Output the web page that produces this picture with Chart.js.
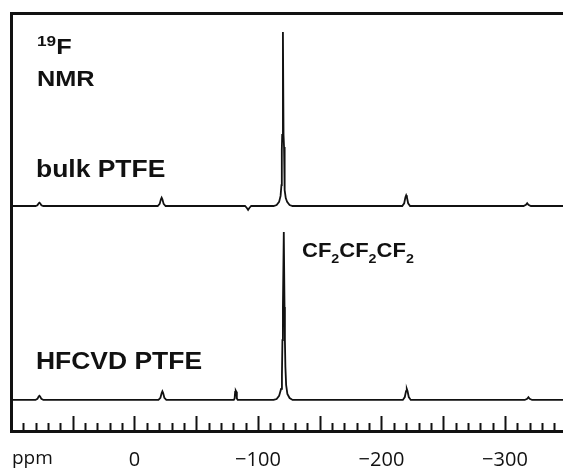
<!DOCTYPE html>
<html>
<head>
<meta charset="utf-8">
<script src="https://cdn.jsdelivr.net/npm/chart.js@4/dist/chart.umd.min.js"></script>
<style>
html, body { margin: 0; padding: 0; background: #fff; }
#wrap { width: 563px; height: 468px; position: relative; }
</style>
</head>
<body>
<div id="wrap"><canvas id="nmrChart"></canvas></div>
<script>
// chemical shift (ppm) and relative intensity
const bulkPpm = [100, 80.2, 78.6, 77.6, 77, 76.4, 75.4, 73.8,
    -18.8, -20.4, -21.4, -22, -22.6, -23.6, -25.2,
    -89.5, -91, -92, -93, -94.5,
    -112.6, -115.1, -117.1, -118.3, -119.0, -119.3, -119.6, -120.2, -120.7, -121.1, -121.4, -121.8, -122.5, -123.6, -125.6, -128.0,
    -216.8, -218.4, -219.4, -220, -220.6, -221.6, -223.2,
    -315, -317, -318, -319, -321, -347];
const bulkInt = [0, 0, 0.004, 0.014, 0.017, 0.014, 0.004, 0,
    0, 0.011, 0.035, 0.043, 0.035, 0.011, 0,
    0, -0.01, -0.02, -0.01, 0,
    0, 0.005, 0.021, 0.052, 0.108, 0.289, 0.366, 0.897, 0.366, 0.304, 0.186, 0.082, 0.041, 0.021, 0.005, 0,
    0, 0.014, 0.045, 0.055, 0.045, 0.014, 0,
    0, 0.006, 0.014, 0.006, 0, 0];

const hfcvdPpm = [100, 80.2, 78.6, 77.6, 77, 76.4, 75.4, 73.8,
    -19.4, -21.0, -22.0, -22.6, -23.2, -24.2, -25.8,
    -80.4, -81.1, -81.5, -82, -82.5, -82.9, -83.6,
    -112.6, -115.1, -117.1, -118.7, -119.4, -119.8, -120.2, -120.9, -121.5, -121.8, -122.2, -122.8, -123.8, -125.6, -128.0,
    -217.3, -218.9, -219.9, -220.5, -221.1, -222.1, -223.7,
    -316, -318, -319, -320, -322, -347];
const hfcvdInt = [0, 0, 0.006, 0.018, 0.022, 0.018, 0.006, 0,
    0, 0.011, 0.036, 0.045, 0.036, 0.011, 0,
    0, 0.008, 0.042, 0.048, 0.042, 0.008, 0,
    0, 0.005, 0.021, 0.057, 0.129, 0.309, 0.479, 0.866, 0.479, 0.309, 0.170, 0.077, 0.031, 0.010, 0,
    0, 0.015, 0.046, 0.057, 0.046, 0.015, 0,
    0, 0.006, 0.014, 0.006, 0, 0];

const bulkOffset = 1;          // upper trace is stacked one unit above the lower
const tickValues = [0, -100, -200, -300];

function toPoints(xs, ys, offset) {
    return xs.map((x, i) => ({ x: x, y: ys[i] + offset }));
}

function drawRuns(ctx, runs, x, y, sx) {
    runs.forEach(r => {
        ctx.save();
        ctx.font = r.font;
        ctx.translate(x, y + (r.dy || 0));
        ctx.scale(sx, 1);
        ctx.fillText(r.text, 0, 0);
        x += ctx.measureText(r.text).width * sx;
        ctx.restore();
    });
}

const B = 'bold ';
const FAM = 'px "Liberation Sans", Arial, sans-serif';

const decorPlugin = {
    id: 'decor',
    afterDraw(chart) {
        const ctx = chart.ctx;
        const xs = chart.scales.x;
        const axisY = chart.chartArea.bottom;
        // inward ticks on the ppm axis
        ctx.save();
        ctx.strokeStyle = '#111';
        ctx.lineWidth = 2;
        for (let v = 100; v >= xs.min; v -= 10) {
            const px = Math.round(xs.getPixelForValue(v)) + 0.5;
            const len = (v % 50 === 0) ? 15 : 8;
            ctx.beginPath();
            ctx.moveTo(px, axisY);
            ctx.lineTo(px, axisY - len);
            ctx.stroke();
        }
        ctx.restore();

        ctx.save();
        ctx.fillStyle = '#111';
        ctx.textBaseline = 'alphabetic';
        ctx.font = '19px "Open Sans", sans-serif';
        ctx.fillText('ppm', 12, 464);

        drawRuns(ctx, [{ text: '19', font: B + '15' + FAM, dy: -8 }, { text: 'F', font: B + '22' + FAM }], 37, 54, 1.15);
        drawRuns(ctx, [{ text: 'NMR', font: B + '22' + FAM }], 37, 86, 1.15);
        drawRuns(ctx, [{ text: 'bulk PTFE', font: B + '23' + FAM }], 36, 177, 1.15);
        drawRuns(ctx, [{ text: 'HFCVD PTFE', font: B + '23' + FAM }], 36, 369, 1.15);
        drawRuns(ctx, [
            { text: 'CF', font: B + '20' + FAM }, { text: '2', font: B + '13' + FAM, dy: 6 },
            { text: 'CF', font: B + '20' + FAM }, { text: '2', font: B + '13' + FAM, dy: 6 },
            { text: 'CF', font: B + '20' + FAM }, { text: '2', font: B + '13' + FAM, dy: 6 }
        ], 302, 257, 1.1);
        ctx.restore();
    }
};

const nmrChart = new Chart(document.getElementById('nmrChart').getContext('2d'), {
    type: 'line',
    data: {
        datasets: [
            {
                label: 'bulk PTFE',
                data: toPoints(bulkPpm, bulkInt, bulkOffset),
                borderColor: '#111',
                borderWidth: 1.8,
                pointRadius: 0,
                tension: 0,
                fill: false
            },
            {
                label: 'HFCVD PTFE',
                data: toPoints(hfcvdPpm, hfcvdInt, 0),
                borderColor: '#111',
                borderWidth: 1.8,
                pointRadius: 0,
                tension: 0,
                fill: false
            }
        ]
    },
    options: {
        responsive: true,
        maintainAspectRatio: false,
        animation: false,
        layout: { padding: 0 },
        plugins: {
            legend: { display: false },
            tooltip: { enabled: false }
        },
        scales: {
            x: {
                type: 'linear',
                position: 'bottom',
                reverse: true,
                min: -347,
                max: 100,
                afterBuildTicks: s => { s.ticks = tickValues.map(v => ({ value: v })); },
                afterFit: s => { s.height = 37; },
                ticks: {
                    maxRotation: 0,
                    padding: 17,
                    color: '#111',
                    font: { family: '"Open Sans", sans-serif', size: 20 },
                    callback: v => (v < 0 ? '\u2212' + Math.abs(v) : String(v))
                },
                grid: { display: true, drawOnChartArea: false, drawTicks: false },
                border: { display: true, color: '#111', width: 3 }
            },
            xTop: {
                type: 'linear',
                position: 'top',
                min: -347,
                max: 100,
                afterFit: s => { s.height = 13; },
                ticks: { display: false },
                grid: { display: true, drawOnChartArea: false, drawTicks: false },
                border: { display: true, color: '#111', width: 3 }
            },
            y: {
                type: 'linear',
                min: -0.16,
                max: 1.995,
                afterFit: s => { s.width = 11; },
                ticks: { display: false },
                grid: { display: true, drawOnChartArea: false, drawTicks: false },
                border: { display: true, color: '#111', width: 3 }
            }
        }
    },
    plugins: [decorPlugin]
});
</script>
</body>
</html>
